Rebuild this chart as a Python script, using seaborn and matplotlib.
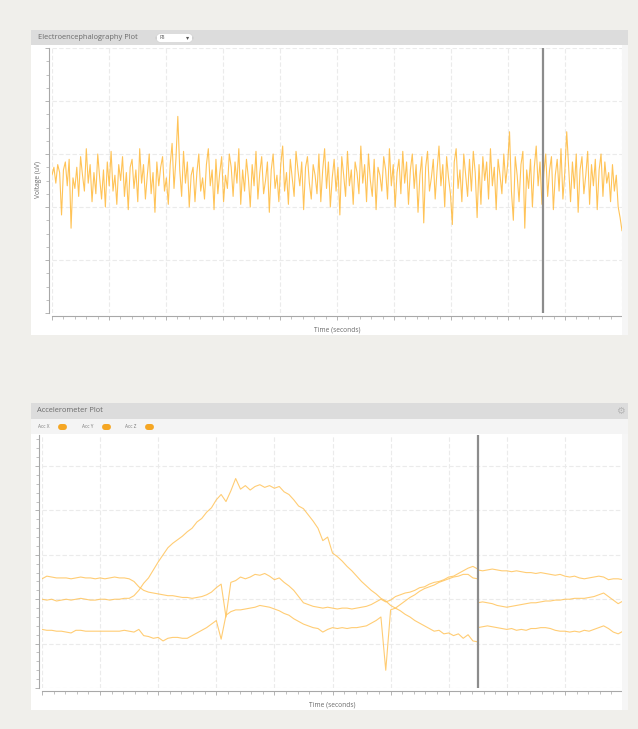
import numpy as np
import pandas as pd
import matplotlib
matplotlib.use("Agg")
import matplotlib.pyplot as plt
from matplotlib.patches import Rectangle, FancyBboxPatch
from matplotlib.ticker import MultipleLocator
import seaborn as sns

# ---------------- data ----------------
eeg_channel = "F8"
eeg_span_s = 10.0
eeg_uv = [
    10, 25, -5, 30, 15, -65, 20, 35, -10, 40, -90, 5, -15, 25, -30, 45, 10, -20, 60, -5,
    30, -40, 15, -25, 50, 5, -35, 20, -50, 35, -10, 55, -20, 10, -45, 30, 0, 45, -30, 15,
    -55, 25, 40, -15, 20, -40, 60, -5, 30, -35, 10, 50, -25, 15, -60, 35, -10, 25, 45, -20,
    5, -45, 30, 70, -15, 40, 121, 20, -30, 55, -5, 35, -50, 10, 25, -40, 15, 50, -20, 5,
    -35, 30, 60, -10, 20, -55, 40, -25, 15, 45, -40, 10, -15, 50, 25, -30, 35, -5, 60, -45,
    20, -20, 40, 5, -50, 30, -10, 55, -35, 15, 45, -25, 0, 35, -60, 20, 50, -15, 10, -40,
    30, 65, -20, 15, -45, 40, 5, -30, 55, 20, -10, 35, -55, 25, 45, -5, -35, 30, 10, -25,
    50, -40, 20, 60, -15, 35, -50, 5, 40, -20, 25, -65, 45, 10, -30, 55, -10, 20, -45, 35,
    15, -25, 65, -5, 30, -40, 50, 0, -30, 40, -55, 25, 10, -20, 45, 20, -35, 60, -10, 30,
    -50, 15, 40, -25, 55, -5, 35, -45, 20, 50, -15, 30, -60, 10, 45, -80, 25, 55, -20, 5,
    40, -35, 20, 65, -10, 30, -50, 45, 5, -25, -83, 35, 60, -15, 20, -40, 50, 10, -30, 40,
    -20, 55, 15, -70, 30, -45, 45, 0, 35, -35, 60, -10, 25, -55, 40, 10, -25, 50, -5, 30,
    92, -20, -75, 45, 10, -40, 30, 55, -90, 20, -15, 40, -50, 25, 65, -10, 35, -45, 15, 50,
    -30, 20, 45, -55, 10, 40, -20, 60, -35, 15, 92, 25, -40, 35, -15, 50, -60, 20, 45, -25,
    10, 55, -45, 30, -10, 40, -55, 20, 50, -30, 35, -5, 15, -40, 30, -20, 10, -50, -70, -95,
]
eeg_cursor_s = 8.61

# accelerometer, 12 samples/s; the recording restarts at the cursor (7.5 s)
acc_rate_hz = 12
acc_cursor_s = 7.5
acc_x = [
    -0.27, -0.24, -0.25, -0.26, -0.26, -0.26, -0.27, -0.26, -0.25, -0.26, -0.26, -0.27, -0.26, -0.27, -0.26, -0.25, -0.26, -0.26, -0.27,
    -0.30, -0.36, -0.40, -0.42, -0.43, -0.44, -0.45, -0.46, -0.46, -0.47, -0.48, -0.48, -0.49, -0.48, -0.47, -0.45, -0.42, -0.37, -0.33, -0.70, -0.31,
    -0.29, -0.25, -0.27, -0.25, -0.22, -0.23, -0.21, -0.24, -0.28, -0.26, -0.31, -0.35, -0.40, -0.47, -0.54, -0.56, -0.58, -0.59, -0.60, -0.59,
    -0.60, -0.61, -0.60, -0.60, -0.61, -0.60, -0.59, -0.58, -0.56, -0.53, -0.50, -0.53, -0.51, -0.47, -0.45, -0.43, -0.42, -0.40, -0.37, -0.36,
    -0.33, -0.31, -0.30, -0.28, -0.25, -0.24, -0.21, -0.18, -0.15, -0.13,
    -0.16,
    -0.17, -0.18, -0.17, -0.16, -0.17, -0.18, -0.18, -0.19, -0.18, -0.19, -0.20, -0.20, -0.21, -0.20, -0.21, -0.22,
    -0.23, -0.22, -0.24, -0.25, -0.24, -0.26, -0.27, -0.26, -0.25, -0.24, -0.25, -0.28, -0.27, -0.27, -0.28,
]
acc_y = [
    -0.50, -0.51, -0.50, -0.52, -0.51, -0.50, -0.51, -0.50, -0.49, -0.50, -0.51, -0.51, -0.50, -0.50, -0.51, -0.50, -0.50, -0.49, -0.49,
    -0.46, -0.40, -0.32, -0.26, -0.17, -0.08, 0.00, 0.08, 0.13, 0.17, 0.21, 0.26, 0.30, 0.37, 0.41, 0.48, 0.53, 0.62, 0.68, 0.60, 0.72,
    0.86, 0.74, 0.78, 0.73, 0.77, 0.79, 0.76, 0.78, 0.75, 0.77, 0.71, 0.68, 0.62, 0.55, 0.52, 0.45, 0.38, 0.30, 0.16, 0.20,
    0.02, -0.02, -0.07, -0.13, -0.18, -0.24, -0.30, -0.35, -0.40, -0.44, -0.49, -0.52, -0.57, -0.60, -0.63, -0.67, -0.70, -0.74, -0.77, -0.80,
    -0.83, -0.86, -0.85, -0.89, -0.88, -0.91, -0.89, -0.94, -0.90, -0.97,
    -0.98,
    -0.82, -0.81, -0.80, -0.81, -0.82, -0.83, -0.84, -0.83, -0.85, -0.84, -0.85, -0.83, -0.83, -0.82, -0.82, -0.83,
    -0.85, -0.86, -0.86, -0.87, -0.86, -0.87, -0.85, -0.86, -0.84, -0.82, -0.80, -0.83, -0.87, -0.89, -0.86,
]
acc_z = [
    -0.84, -0.85, -0.85, -0.86, -0.86, -0.87, -0.88, -0.85, -0.85, -0.86, -0.86, -0.86, -0.86, -0.86, -0.86, -0.86, -0.86, -0.85, -0.86,
    -0.87, -0.84, -0.91, -0.92, -0.94, -0.93, -0.97, -0.94, -0.93, -0.93, -0.94, -0.94, -0.91, -0.88, -0.85, -0.82, -0.78, -0.74, -0.95, -0.68, -0.64,
    -0.62, -0.62, -0.61, -0.60, -0.59, -0.57, -0.58, -0.59, -0.61, -0.63, -0.66, -0.68, -0.72, -0.75, -0.78, -0.80, -0.82, -0.83, -0.87, -0.84,
    -0.82, -0.83, -0.82, -0.83, -0.82, -0.82, -0.81, -0.80, -0.77, -0.74, -0.70, -1.30, -0.62, -0.60, -0.56, -0.52, -0.48, -0.45, -0.41, -0.38,
    -0.36, -0.34, -0.31, -0.29, -0.27, -0.25, -0.24, -0.22, -0.22, -0.26,
    -0.27,
    -0.54, -0.53, -0.54, -0.55, -0.57, -0.58, -0.59, -0.58, -0.57, -0.56, -0.55, -0.54, -0.54, -0.53, -0.52, -0.52,
    -0.51, -0.51, -0.50, -0.50, -0.49, -0.49, -0.49, -0.48, -0.47, -0.45, -0.43, -0.47, -0.51, -0.55, -0.52,
]
acc_labels = ["Acc X", "Acc Y", "Acc Z"]

# ---------------- style ----------------
sns.set_theme(style="white")
plt.rcParams["font.family"] = ["Open Sans", "DejaVu Sans"]

W, H = 638, 729
BG = "#f0efeb"
HEADER = "#dcdcdc"
LEGEND_ROW = "#f4f4f4"
TEXT = "#6a6a6a"
LINE = "#ffb52e"
ACC_LINE = "#ffc45c"
PILL = "#f5a623"
GRID = "#ebebeb"
AXIS = "#a8a8a8"
CURSOR = "#8c8c8c"

fig = plt.figure(figsize=(W / 100, H / 100), dpi=100, facecolor=BG)


def fx(x):
    return x / W


def fy(y):
    return 1 - y / H


def box(x0, y0, x1, y1, color, z=0):
    fig.add_artist(Rectangle((fx(x0), fy(y1)), fx(x1 - x0), (y1 - y0) / H,
                             transform=fig.transFigure, facecolor=color,
                             edgecolor="none", zorder=z))


def axes_px(x0, y0, x1, y1):
    return fig.add_axes([fx(x0), fy(y1), fx(x1 - x0), (y1 - y0) / H])


def style_axes(ax, xminor, yminor):
    ax.set_facecolor("none")
    sns.despine(ax=ax, offset=2.5)
    for side in ("left", "bottom"):
        ax.spines[side].set_color(AXIS)
        ax.spines[side].set_linewidth(0.8)
    ax.xaxis.set_minor_locator(MultipleLocator(xminor))
    ax.yaxis.set_minor_locator(MultipleLocator(yminor))
    ax.tick_params(which="major", length=3, width=0.6, color=AXIS,
                   labelleft=False, labelbottom=False, left=True, bottom=True)
    ax.tick_params(which="minor", length=2, width=0.5, color=AXIS,
                   left=True, bottom=True)
    ax.grid(True, which="major", color=GRID, lw=0.8, ls=(0, (4, 2)))
    ax.set_xlabel("")
    ax.set_ylabel("")


# ---------------- EEG card ----------------
box(31, 30, 628, 335, "white")
box(31, 30, 628, 45, HEADER, z=1)
box(622, 45, 628, 335, "#f6f6f6", z=1)
fig.text(fx(38), fy(37.5), "Electroencephalography Plot", fontsize=5.4,
         color=TEXT, va="center", ha="left")
fig.add_artist(FancyBboxPatch((fx(156), fy(42.5)), fx(37), 9 / H,
                              boxstyle="round,pad=0,rounding_size=0.008",
                              transform=fig.transFigure, facecolor="white",
                              edgecolor="#d0d0d0", lw=0.4, zorder=2))
fig.text(fx(160), fy(37.5), eeg_channel, fontsize=3.6, color="#555",
         va="center", zorder=3)
fig.text(fx(188), fy(38), "▾", fontsize=4.5, color="#555", va="center",
         ha="center", zorder=3, family="DejaVu Sans")

eeg = pd.DataFrame({"time": np.linspace(0, eeg_span_s, len(eeg_uv)),
                    "uv": eeg_uv})
ax1 = axes_px(52, 48, 622, 313)
sns.lineplot(data=eeg, x="time", y="uv", ax=ax1, color=LINE, lw=0.8,
             alpha=0.8, estimator=None, sort=False)
ax1.set_xlim(0, eeg_span_s)
ax1.set_ylim(-250, 250)
ax1.set_yticks(np.arange(-250, 251, 100))
ax1.xaxis.set_major_locator(MultipleLocator(1))
style_axes(ax1, 0.2, 25)
ax1.axvline(eeg_cursor_s, color=CURSOR, lw=1.6, zorder=5)
fig.text(fx(337), fy(330), "Time (seconds)", fontsize=4.8, color=TEXT,
         ha="center", va="center")
fig.text(fx(39), fy(180), "Voltage (uV)", fontsize=4.8, color=TEXT,
         ha="center", va="center", rotation=90)

# ---------------- accelerometer card ----------------
box(31, 403, 628, 710, "white")
box(31, 403, 628, 418.5, HEADER, z=1)
box(31, 418.5, 628, 434, LEGEND_ROW, z=1)
box(622, 434, 628, 710, "#f6f6f6", z=1)
fig.text(fx(37), fy(411), "Accelerometer Plot", fontsize=5.4, color=TEXT,
         va="center", ha="left")
fig.text(fx(620.5), fy(411.5), "⚙", fontsize=7, color="#b5b5b5",
         ha="center", va="center", family="DejaVu Sans", zorder=3)
for label, tx, px in zip(acc_labels, (38, 82, 125), (58, 102, 145)):
    fig.text(fx(tx), fy(427), label, fontsize=3.4, color="#777",
             va="center", ha="left", zorder=3)
    fig.add_artist(FancyBboxPatch((fx(px), fy(430)), fx(9), 6 / H,
                                  boxstyle="round,pad=0,rounding_size=0.005",
                                  transform=fig.transFigure, facecolor=PILL,
                                  edgecolor="none", zorder=3))

acc_time = np.concatenate([np.arange(91), np.arange(90, 121)]) / acc_rate_hz
acc = pd.DataFrame({"time": acc_time, "Acc X": acc_x, "Acc Y": acc_y,
                    "Acc Z": acc_z})
acc_long = acc.melt(id_vars="time", var_name="axis", value_name="g")
acc_long["order"] = np.tile(np.arange(len(acc_time)), 3)

ax2 = axes_px(42, 435, 623, 688)
for label in acc_labels:
    part = acc_long[acc_long["axis"] == label].sort_values("order")
    sns.lineplot(data=part, x="time", y="g", ax=ax2, color=ACC_LINE,
                 lw=0.8, alpha=0.85, estimator=None, sort=False)
ax2.set_xlim(0, 10)
ax2.set_ylim(-1.5, 1.35)
ax2.xaxis.set_major_locator(MultipleLocator(1))
ax2.yaxis.set_major_locator(MultipleLocator(0.5))
style_axes(ax2, 0.2, 0.1)
ax2.axvline(acc_cursor_s, color=CURSOR, lw=1.6, zorder=5)
fig.text(fx(332), fy(705), "Time (seconds)", fontsize=4.8, color=TEXT,
         ha="center", va="center")

fig.savefig("out.png", dpi=100, facecolor=BG)
